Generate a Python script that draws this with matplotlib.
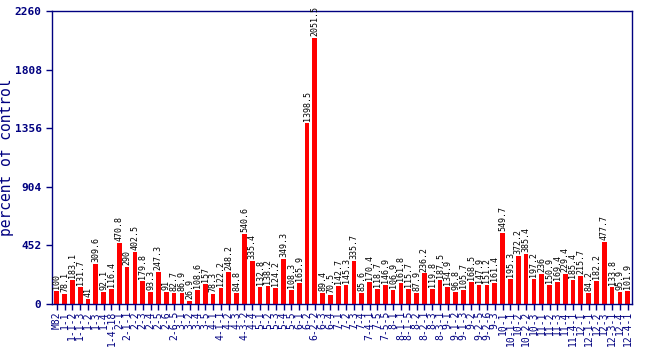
import numpy as np
import matplotlib
matplotlib.use("Agg")
import matplotlib.pyplot as plt

# introgression lines and their expression, percent of M82 control
lines = ["M82", "1-1", "1-1-2", "1-1-3", "1-2", "1-3", "1-4", "1-4-18",
         "2-1", "2-1-1", "2-2", "2-3", "2-4", "2-5", "2-6", "2-6-5",
         "3-1", "3-2", "3-4", "3-5", "4-1", "4-1-1", "4-2", "4-3",
         "4-3-2", "4-4", "5-1", "5-2", "5-3", "5-4", "5-5", "6-1", "6-2",
         "6-2-2", "6-3", "6-4", "7-1", "7-2", "7-3", "7-4", "7-4-1", "7-5",
         "7-5-5", "8-1", "8-1-1", "8-1-5", "8-2", "8-2-1", "8-3", "8-3-1",
         "9-1", "9-1-2", "9-1-3", "9-2", "9-2-5", "9-2-6", "9-3", "10-1",
         "10-1-1", "10-2", "10-2-2", "10-3", "11-1", "11-2", "11-3",
         "11-4", "11-4-1", "12-1", "12-1-1", "12-2", "12-3", "12-3-1",
         "12-4", "12-4-1"]
values = [100, 78.1, 183.1, 131.7, 41, 309.6, 92.1, 116.4, 470.8, 290,
          402.5, 179.8, 93.3, 247.3, 91, 82.7, 86.9, 26.9, 108.6, 157,
          78.3, 122.2, 248.2, 84.8, 540.6, 335.4, 132.8, 138.2, 124.2, 349.3,
          108.3, 165.9, 1398.5, 2051.5, 89.4, 70.5, 142.7, 145.3, 335.7, 85.6,
          170.4, 118.7, 146.9, 106.9, 161.8, 115.7, 87.9, 236.2, 119.8, 187.5,
          134.9, 96.8, 105.7, 168.5, 147.9, 151.2, 161.4, 549.7, 195.3, 372.2,
          385.4, 197.2, 236, 150.9, 169.4, 229.4, 185.4, 215.7, 84.2, 182.2,
          477.7, 133.8, 95.9, 101.9]
yticks = [0, 452, 904, 1356, 1808, 2260]

navy = "#000080"
mono = "DejaVu Sans Mono"

fig = plt.figure(figsize=(6.5, 3.5), dpi=100)
ax = fig.add_axes([0.08, 0.131, 0.893, 0.838])

x = np.arange(len(values))
ax.bar(x, values, width=0.6, color="red")

# value printed above each bar
for xi, v in zip(x, values):
    ax.text(xi, v + 15, f"{v:g}", rotation=90, ha="center", va="bottom",
            fontsize=6, family=mono, color="black")

ax.set_xlim(-0.6, len(values) - 0.4)
ax.set_ylim(0, 2260)
ax.set_yticks(yticks)
ax.set_yticklabels([str(t) for t in yticks], family=mono, fontweight="bold",
                   fontsize=8, color=navy)
ax.set_xticks(x)
ax.set_xticklabels(lines, rotation=90, family=mono, fontsize=7, color=navy)
ax.tick_params(axis="both", colors=navy, length=4, width=1)
ax.tick_params(axis="x", pad=1)
for s in ax.spines.values():
    s.set_color(navy)
    s.set_linewidth(1)
ax.set_ylabel("percent of control", family=mono, fontsize=10.5, color=navy)
ax.yaxis.set_label_coords(-0.065, 0.5)

fig.savefig("out.png", dpi=100)
